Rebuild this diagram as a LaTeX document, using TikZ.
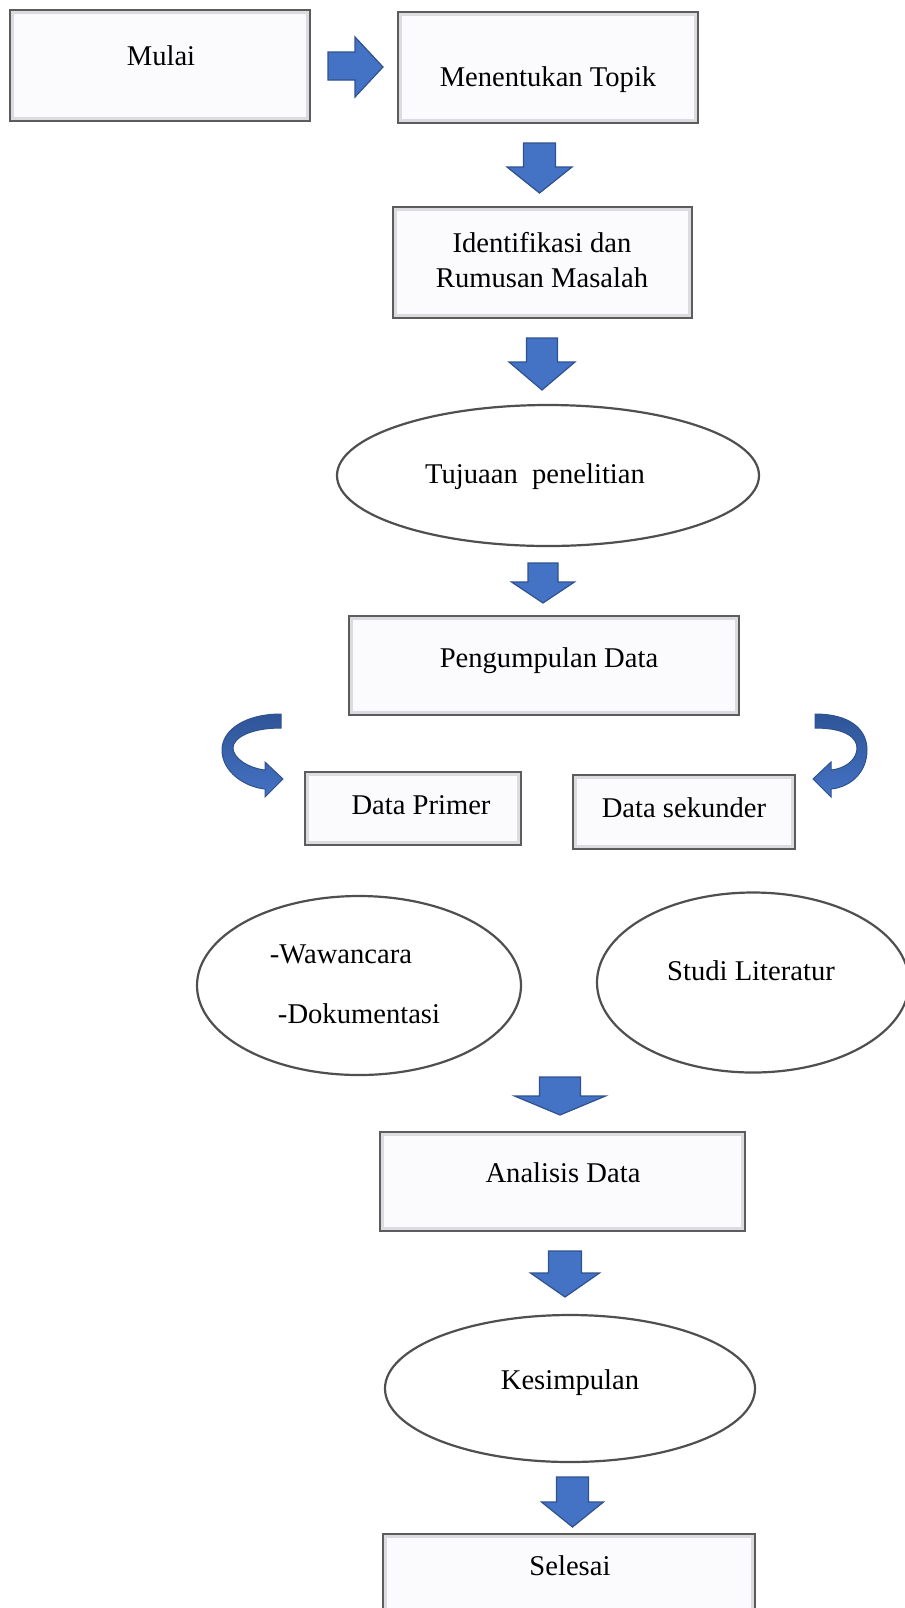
\documentclass[tikz,border=0pt]{standalone}
\usepackage{fontspec}
\setmainfont{Liberation Serif}
\usetikzlibrary{shapes.geometric}

\definecolor{arrowblue}{HTML}{4472C4}
\definecolor{arrowedge}{HTML}{2F528F}
\definecolor{arrowdark}{HTML}{2F5597}
\definecolor{boxedge}{HTML}{5C5C5C}
\definecolor{boxrim}{HTML}{DCDCE0}
\definecolor{boxfill}{HTML}{FBFBFD}
\definecolor{ovaledge}{HTML}{4F4F4F}

% block arrow pointing down: centre x, top y, head y, tip y, half shaft, half head
\newcommand{\blockdown}[6]{%
    \draw[blockarrow] (#1-#5,#2) -- (#1+#5,#2) -- (#1+#5,#3) -- (#1+#6,#3)
        -- (#1,#4) -- (#1-#6,#3) -- (#1-#5,#3) -- cycle;}

\begin{document}
\begin{tikzpicture}[x=0.5pt, y=-0.5pt,
    font=\fontsize{14.3}{17.5}\selectfont,
    box/.style={draw=boxedge, line width=1pt, fill=boxrim, inner sep=0pt,
        path picture={\fill[boxfill]
            ([shift={(2pt,-2pt)}]path picture bounding box.north west) rectangle
            ([shift={(-2pt,2pt)}]path picture bounding box.south east);}},
    oval/.style={ellipse, draw=ovaledge, line width=1.1pt, fill=white, inner sep=0pt},
    txt/.style={anchor=base, inner sep=0pt},
    blockarrow/.style={fill=arrowblue, draw=arrowedge, line width=0.6pt, line join=miter},
    curvearrow/.style={top color=arrowdark, bottom color=arrowblue, draw=arrowedge, line width=0.5pt}]

    \useasboundingbox (0,0) rectangle (905,1608);
    \clip (0,0) rectangle (905,1608);

    % boxes and ovals
    \node[box, minimum width=150pt, minimum height=55.5pt] (mulai) at (160,65.5) {};
    \node[box, minimum width=150pt, minimum height=55.5pt] (topik) at (548,67.5) {};
    \node[box, minimum width=149.5pt, minimum height=55.5pt] (masalah) at (542.5,262.5) {};
    \node[oval, minimum width=211pt, minimum height=70.5pt] (tujuan) at (548,475.5) {};
    \node[box, minimum width=195pt, minimum height=49.5pt] (kumpul) at (544,665.5) {};
    \node[box, minimum width=108pt, minimum height=36.5pt] (primer) at (413,808.5) {};
    \node[box, minimum width=111pt, minimum height=37pt] (sekunder) at (684,812) {};
    \node[oval, minimum width=162pt, minimum height=89.5pt] (wawancara) at (359,985.5) {};
    \node[oval, minimum width=156pt, minimum height=90pt] (studi) at (753,982.5) {};
    \node[box, minimum width=182.5pt, minimum height=49.5pt] (analisis) at (562.5,1181.5) {};
    \node[oval, minimum width=185pt, minimum height=73.5pt] (simpul) at (570,1388.5) {};
    \node[box, minimum width=186pt, minimum height=66pt] (selesai) at (569,1600) {};

    % texts
    \node[txt] (tmulai) at (161,65) {Mulai};
    \node[txt] (ttopik) at (548,86) {Menentukan Topik};
    \node[align=center, inner sep=0pt] (tmasalah) at (542,260) {Identifikasi dan\\Rumusan Masalah};
    \node[txt] (ttujuan) at (535,483) {Tujuaan\ \ penelitian};
    \node[txt] (tkumpul) at (549,667) {Pengumpulan Data};
    \node[txt] (tprimer) at (421,814) {Data Primer};
    \node[txt] (tsekunder) at (684,817) {Data sekunder};
    \node[txt] (twawancara) at (341,963) {-Wawancara};
    \node[txt] (tdokumen) at (359,1023) {-Dokumentasi};
    \node[txt] (tstudi) at (751,980) {Studi Literatur};
    \node[txt] (tanalisis) at (563,1182) {Analisis Data};
    \node[txt] (tsimpul) at (570,1389) {Kesimpulan};
    \node[txt] (tselesai) at (570,1575) {Selesai};

    % block arrows
    \draw[blockarrow] (328,52) -- (355,52) -- (355,37) -- (383,67) -- (355,97)
        -- (355,80) -- (328,80) -- cycle;
    \blockdown{539.5}{143}{167}{193}{16}{32.5}
    \blockdown{542}{338}{362}{390}{15.5}{33}
    \blockdown{543}{563}{582}{603}{15}{31.5}
    \blockdown{560}{1077}{1096}{1115}{20.5}{45.5}
    \blockdown{565}{1251}{1273}{1297}{16.5}{34.5}
    \blockdown{572.5}{1477}{1502}{1527}{16}{31}

    % curved arrows
    \draw[curvearrow] (281,714) .. controls (245,714) and (222,730) .. (222,750)
        .. controls (222,772) and (245,787) .. (265,789) -- (265,797) -- (283,779)
        -- (265,762) -- (265,770) .. controls (248,768) and (233,758) .. (233,748)
        .. controls (233,738) and (250,728) .. (281,728) -- cycle;
    \draw[curvearrow] (815,714) .. controls (851,714) and (867,730) .. (867,750)
        .. controls (867,772) and (851,787) .. (831,789) -- (831,797) -- (813,779)
        -- (831,762) -- (831,770) .. controls (848,768) and (857,758) .. (857,748)
        .. controls (857,738) and (846,728) .. (815,728) -- cycle;

\end{tikzpicture}
\end{document}
